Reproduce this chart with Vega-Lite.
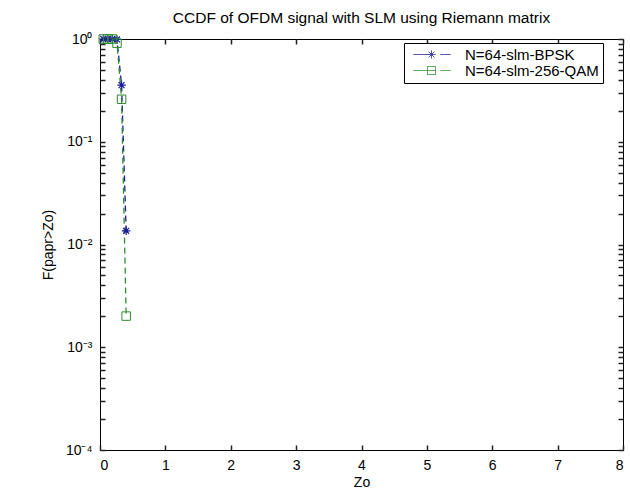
{
  "$schema": "https://vega.github.io/schema/vega-lite/v6.json",
  "width": 523,
  "height": 411,
  "autosize": "none",
  "padding": {"left": 100, "top": 39, "right": 7, "bottom": 50},
  "background": "white",
  "title": {"text": "CCDF of OFDM signal with SLM using Riemann matrix", "fontSize": 15.5, "font": "Liberation Sans", "fontWeight": "normal", "color": "black", "offset": 6},
  "data": {"values": [
    {"series": "N=64-slm-BPSK", "zo": 0.05, "p": 1.0},
    {"series": "N=64-slm-BPSK", "zo": 0.12, "p": 1.0},
    {"series": "N=64-slm-BPSK", "zo": 0.19, "p": 1.0},
    {"series": "N=64-slm-BPSK", "zo": 0.26, "p": 0.99},
    {"series": "N=64-slm-BPSK", "zo": 0.33, "p": 0.356},
    {"series": "N=64-slm-BPSK", "zo": 0.40, "p": 0.0136},
    {"series": "N=64-slm-256-QAM", "zo": 0.05, "p": 1.0},
    {"series": "N=64-slm-256-QAM", "zo": 0.12, "p": 1.0},
    {"series": "N=64-slm-256-QAM", "zo": 0.19, "p": 1.0},
    {"series": "N=64-slm-256-QAM", "zo": 0.26, "p": 0.91},
    {"series": "N=64-slm-256-QAM", "zo": 0.33, "p": 0.259},
    {"series": "N=64-slm-256-QAM", "zo": 0.40, "p": 0.00201}
  ]},
  "config": {
    "view": {"stroke": "black", "strokeWidth": 1},
    "axis": {"grid": false, "domain": false, "ticks": true, "tickColor": "#222", "tickWidth": 1.5, "tickOpacity": 1, "labelColor": "black", "labelFont": "Liberation Sans", "labelFontSize": 14, "titleFont": "Liberation Sans", "titleFontSize": 14, "titleFontWeight": "normal", "titleColor": "black", "labelPadding": 8}
  },
  "layer": [
    {
      "mark": {"type": "line", "strokeDash": [6, 4], "strokeWidth": 1.3},
      "encoding": {
        "x": {"field": "zo", "type": "quantitative", "scale": {"domain": [0, 8], "nice": false},
          "axis": {"orient": "bottom", "values": [0, 1, 2, 3, 4, 5, 6, 7, 8], "title": "Zo", "titlePadding": 3, "tickSize": 5, "offset": -5}},
        "y": {"field": "p", "type": "quantitative", "scale": {"type": "log", "domain": [0.0001, 1], "nice": false},
          "axis": {"orient": "left", "title": "F(papr>Zo)", "titlePadding": 10, "tickSize": 5, "offset": -5,
            "values": [0.0001, 0.0002, 0.0003, 0.0004, 0.0005, 0.0006, 0.0007, 0.0008, 0.0009, 0.001, 0.002, 0.003, 0.004, 0.005, 0.006, 0.007, 0.008, 0.009, 0.01, 0.02, 0.03, 0.04, 0.05, 0.06, 0.07, 0.08, 0.09, 0.1, 0.2, 0.3, 0.4, 0.5, 0.6, 0.7, 0.8, 0.9, 1],
            "labelExpr": "datum.value == 1 ? '10⁰' : datum.value == 0.1 ? '10⁻¹' : datum.value == 0.01 ? '10⁻²' : datum.value == 0.001 ? '10⁻³' : datum.value == 0.0001 ? '10⁻⁴' : ''"}},
        "color": {"field": "series", "type": "nominal",
          "scale": {"domain": ["N=64-slm-BPSK", "N=64-slm-256-QAM"], "range": ["#1a1a9a", "#2e8b2e"]},
          "legend": {"orient": "none", "legendX": 304, "legendY": 4, "title": null, "padding": 4,
            "symbolSize": 100, "symbolOffset": 16, "labelOffset": 26, "labelFontSize": 15, "labelFont": "Liberation Sans", "labelColor": "black", "rowPadding": 0, "symbolStrokeWidth": 1, "symbolFillColor": "transparent",
            "symbolType": "M-3.6,0H-0.8M1.8,0H3.8M-0.8,0H0.8M0,-0.8V0.8M-0.56,-0.56L0.56,0.56M-0.56,0.56L0.56,-0.56",
            "encode": {
              "legend": {"update": {"stroke": {"value": "black"}, "strokeWidth": {"value": 1}, "fill": {"value": "white"}}},
              "symbols": {"update": {"strokeDash": {"value": [1, 0]}, "fill": {"value": "transparent"},
              "shape": {"signal": "datum.value == 'N=64-slm-BPSK' ? 'M-3.6,0H-0.8M1.8,0H3.8M-0.8,0H0.8M0,-0.8V0.8M-0.56,-0.56L0.56,0.56M-0.56,0.56L0.56,-0.56' : 'M-3.6,0H-0.8M1.8,0H3.8M-0.8,-0.8H0.8V0.8H-0.8ZM-0.8,0H0.8'"}}}}}},
        "order": {"field": "zo"}
      }
    },
    {
      "transform": [{"filter": "datum.series == 'N=64-slm-BPSK'"}],
      "mark": {"type": "point", "filled": false, "strokeWidth": 1.2, "size": 72, "opacity": 1, "shape": "M-1,0H1M0,-1V1M-0.7,-0.7L0.7,0.7M-0.7,0.7L0.7,-0.7"},
      "encoding": {
        "x": {"field": "zo", "type": "quantitative",
          "axis": {"orient": "top", "values": [0, 1, 2, 3, 4, 5, 6, 7, 8], "labels": false, "title": null, "tickSize": -5}},
        "y": {"field": "p", "type": "quantitative",
          "axis": {"orient": "right", "labels": false, "title": null, "tickSize": -5,
            "values": [0.0001, 0.0002, 0.0003, 0.0004, 0.0005, 0.0006, 0.0007, 0.0008, 0.0009, 0.001, 0.002, 0.003, 0.004, 0.005, 0.006, 0.007, 0.008, 0.009, 0.01, 0.02, 0.03, 0.04, 0.05, 0.06, 0.07, 0.08, 0.09, 0.1, 0.2, 0.3, 0.4, 0.5, 0.6, 0.7, 0.8, 0.9, 1]}},
        "color": {"field": "series", "type": "nominal", "legend": null}
      }
    },
    {
      "transform": [{"filter": "datum.series == 'N=64-slm-256-QAM'"}],
      "mark": {"type": "point", "filled": false, "strokeWidth": 1, "size": 72, "opacity": 1, "shape": "square"},
      "encoding": {
        "x": {"field": "zo", "type": "quantitative", "axis": null},
        "y": {"field": "p", "type": "quantitative", "axis": null},
        "color": {"field": "series", "type": "nominal", "legend": null}
      }
    }
  ],
  "resolve": {"axis": {"x": "independent", "y": "independent"}}
}
